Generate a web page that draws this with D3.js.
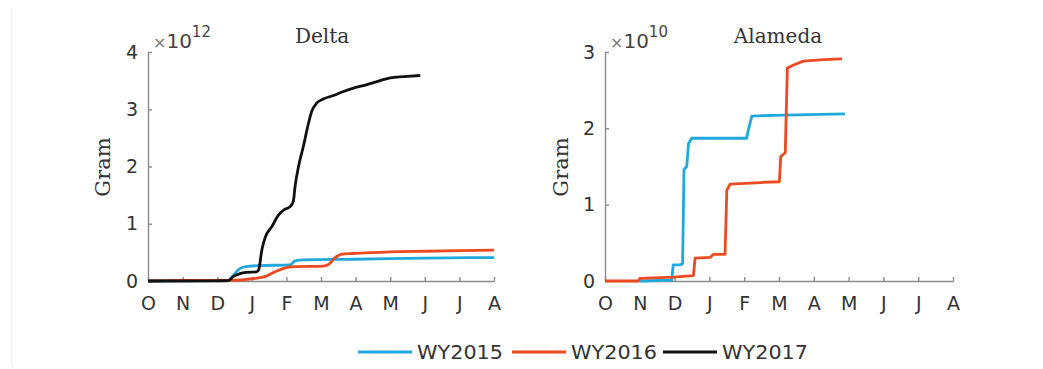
<!DOCTYPE html>
<html lang="en">
<head>
<meta charset="UTF-8">
<title>Cumulative load</title>
<script src="https://cdn.jsdelivr.net/npm/d3@7"></script>
<style>
  body { margin: 0; background: #fff; }
  svg { display: block; }
  .tick text { font-family: "DejaVu Sans", sans-serif; font-size: 19px; fill: #333; }
  .domain, .tick line { stroke: #8a8a8a; stroke-width: 1.4; }
</style>
</head>
<body>
<div id="box"></div>
<script>
// months since 1 Oct of the water year
var monthLabels = ['O', 'N', 'D', 'J', 'F', 'M', 'A', 'M', 'J', 'J', 'A'];
var seriesNames = ['WY2015', 'WY2016', 'WY2017'];
var seriesColors = ['#1fa9dc', '#ee4a22', '#111111'];

// Delta, values in units of 1e12 g
var deltaWY2015 = [[0, 0], [2.3, 0.005], [2.47, 0.1], [2.6, 0.19], [2.75, 0.24], [2.95, 0.26], [3.3, 0.27], [4.1, 0.28],
  [4.25, 0.35], [4.5, 0.37], [6, 0.38], [8, 0.4], [10, 0.41]];
var deltaWY2016 = [[0, 0], [1, 0.01], [2.3, 0.01], [3.14, 0.05], [3.4, 0.08], [3.67, 0.16], [3.92, 0.22], [4.2, 0.25],
  [5.07, 0.26], [5.22, 0.29], [5.41, 0.41], [5.6, 0.47], [5.94, 0.48], [7, 0.51], [8, 0.52], [10, 0.54]];
var deltaWY2017 = [[0, 0], [2.32, 0.005], [2.47, 0.08], [2.66, 0.13], [2.85, 0.15], [3.14, 0.16], [3.2, 0.2],
  [3.29, 0.54], [3.38, 0.75], [3.58, 0.95], [3.77, 1.15], [3.92, 1.24], [4.11, 1.3], [4.2, 1.39], [4.25, 1.65],
  [4.35, 2.0], [4.49, 2.35], [4.64, 2.76], [4.73, 2.96], [4.88, 3.11], [5.07, 3.18], [5.36, 3.24], [5.65, 3.31],
  [5.94, 3.37], [6.33, 3.43], [6.71, 3.5], [7.0, 3.55], [7.39, 3.57], [7.87, 3.59]];

// Alameda, values in units of 1e10 g
var alamedaWY2015 = [[1.01, 0], [1.92, 0.01], [1.96, 0.21], [2.16, 0.21], [2.23, 0.23], [2.27, 1.46], [2.35, 1.5],
  [2.4, 1.8], [2.49, 1.87], [4.07, 1.87], [4.12, 1.98], [4.22, 2.16], [4.84, 2.17], [6.9, 2.19]];
var alamedaWY2016 = [[0, 0], [0.96, 0], [1.01, 0.035], [1.97, 0.05], [2.25, 0.06], [2.54, 0.07], [2.59, 0.3],
  [3.02, 0.31], [3.12, 0.35], [3.45, 0.35], [3.5, 1.19], [3.6, 1.27], [4.46, 1.29], [5.01, 1.3], [5.05, 1.63],
  [5.18, 1.68], [5.24, 2.79], [5.42, 2.83], [5.7, 2.88], [6.28, 2.9], [6.81, 2.91]];

var deltaTicks = [0, 1, 2, 3, 4];
var alamedaTicks = [0, 1, 2, 3];

var W = 1043, H = 369;
var svg = d3.select('#box').append('svg').attr('width', W).attr('height', H);

// faint frame line on the left edge
svg.append('line').attr('x1', 11.5).attr('x2', 11.5).attr('y1', 8).attr('y2', 365)
  .attr('stroke', '#f0f0f0').attr('stroke-width', 1);

function panel(opt) {
  var x = d3.scaleLinear().domain([0, 10]).range([opt.x0, opt.x1]);
  var y = d3.scaleLinear().domain([0, opt.ymax]).range([281, 52]);
  var g = svg.append('g');

  g.append('g').attr('transform', 'translate(0,281)')
    .call(d3.axisBottom(x).tickValues(d3.range(11)).tickFormat(function (d) { return monthLabels[d]; })
      .tickSizeInner(-4).tickSizeOuter(0).tickPadding(16));

  g.append('g').attr('transform', 'translate(' + opt.x0 + ',0)')
    .call(d3.axisLeft(y).tickValues(opt.ticks).tickFormat(d3.format('d'))
      .tickSizeInner(-4).tickSizeOuter(0).tickPadding(10));

  var line = d3.line().x(function (d) { return x(d[0]); }).y(function (d) { return y(d[1]); })
    .curve(opt.curve);

  opt.series.forEach(function (s) {
    if (!s.data) return;
    g.append('path').datum(s.data).attr('d', line)
      .attr('fill', 'none').attr('stroke', s.color).attr('stroke-width', 2.8)
      .attr('stroke-linejoin', 'round');
  });

  // title
  g.append('text').attr('x', opt.titleX).attr('y', 43).attr('text-anchor', 'middle')
    .style('font-family', '"DejaVu Serif", serif').style('font-size', '20px').style('fill', '#333')
    .text(opt.title);

  // y label
  g.append('text').attr('transform', 'translate(' + opt.labelX + ',167) rotate(-90)')
    .attr('text-anchor', 'middle')
    .style('font-family', '"DejaVu Serif", serif').style('font-size', '21px').style('fill', '#333')
    .text('Gram');

  // exponent
  var ex = g.append('text').attr('x', opt.x0 + 5).attr('y', 48)
    .style('font-family', '"DejaVu Sans", sans-serif').style('fill', '#444');
  ex.append('tspan').style('font-size', '16px').style('fill', '#777').text('\u00d7');
  ex.append('tspan').style('font-size', '20px').text('10');
  ex.append('tspan').attr('dy', -11).style('font-size', '15px').text(opt.exp);
}

panel({
  x0: 148, x1: 494, ymax: 4, ticks: deltaTicks, title: 'Delta', titleX: 322, labelX: 110, exp: '12',
  curve: d3.curveMonotoneX,
  series: [
    { data: deltaWY2015, color: seriesColors[0] },
    { data: deltaWY2016, color: seriesColors[1] },
    { data: deltaWY2017, color: seriesColors[2] }
  ]
});

panel({
  x0: 605, x1: 953, ymax: 3, ticks: alamedaTicks, title: 'Alameda', titleX: 778, labelX: 568, exp: '10',
  curve: d3.curveLinear,
  series: [
    { data: alamedaWY2015, color: seriesColors[0] },
    { data: alamedaWY2016, color: seriesColors[1] }
  ]
});

// legend
var legendX = [358, 512, 663];
var leg = svg.append('g');
seriesNames.forEach(function (name, i) {
  leg.append('line').attr('x1', legendX[i]).attr('x2', legendX[i] + 54).attr('y1', 352).attr('y2', 352)
    .attr('stroke', seriesColors[i]).attr('stroke-width', 2.8);
  leg.append('text').attr('x', legendX[i] + 59).attr('y', 359)
    .attr('textLength', 86).attr('lengthAdjust', 'spacingAndGlyphs')
    .style('font-family', '"DejaVu Sans", sans-serif').style('font-size', '19px').style('fill', '#333')
    .text(name);
});
</script>
</body>
</html>
